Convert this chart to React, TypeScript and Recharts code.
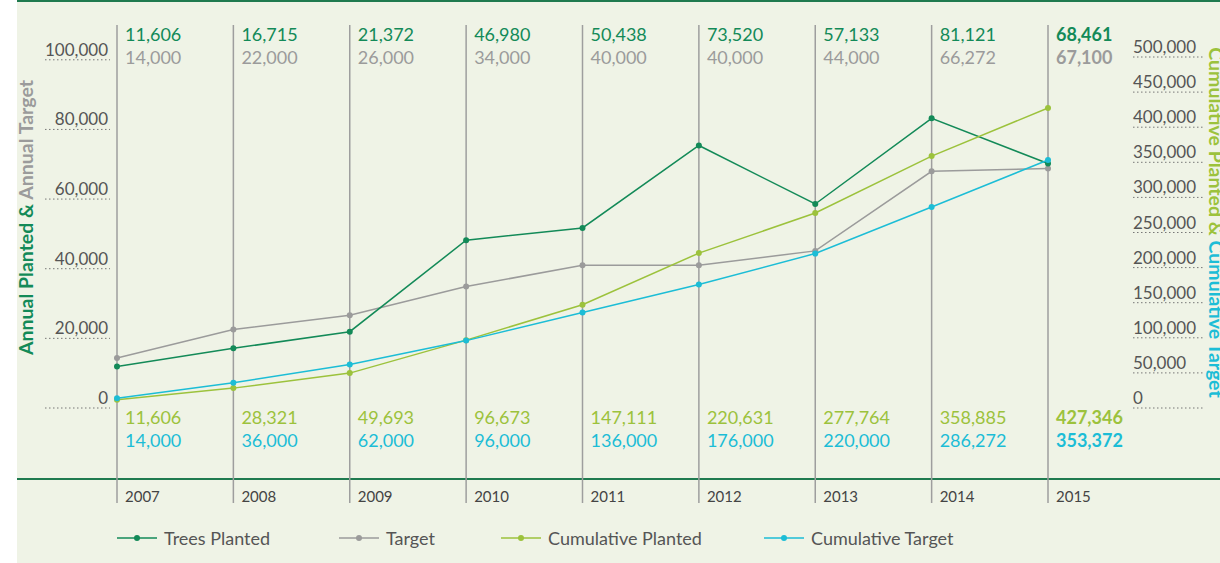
import React from 'react';
import { LineChart, Line, XAxis, YAxis, Legend, Label, CartesianGrid } from 'recharts';

const years = [2007, 2008, 2009, 2010, 2011, 2012, 2013, 2014, 2015];
const treesPlanted = [11606, 16715, 21372, 46980, 50438, 73520, 57133, 81121, 68461];
const target = [14000, 22000, 26000, 34000, 40000, 40000, 44000, 66272, 67100];
const cumulativePlanted = [11606, 28321, 49693, 96673, 147111, 220631, 277764, 358885, 427346];
const cumulativeTarget = [14000, 36000, 62000, 96000, 136000, 176000, 220000, 286272, 353372];
const leftTicks = [0, 20000, 40000, 60000, 80000, 100000];
const rightTicks = [0, 50000, 100000, 150000, 200000, 250000, 300000, 350000, 400000, 450000, 500000];

const data = years.map((year, i) => ({
  year,
  planted: treesPlanted[i],
  target: target[i],
  cumPlanted: cumulativePlanted[i],
  cumTarget: cumulativeTarget[i],
}));

const FONT = 'Lato, "Open Sans", sans-serif';
const C = {
  planted: '#138a58',
  target: '#9b9b9b',
  cumPlanted: '#9cc23c',
  cumTarget: '#1cbdd6',
  axisText: '#555555',
  grid: '#9e9e9e',
  bg: '#eff3e6',
  rule: '#1f7a4f',
};

const fmt = (v: number) => v.toLocaleString('en-US');

function XTick(props: any) {
  const { x, y, payload } = props;
  const i = years.indexOf(payload.value);
  if (i < 0) return null;
  const fw = i === years.length - 1 ? 700 : 400;
  const tx = x + 8;
  return (
    <g fontFamily={FONT}>
      <text x={tx} y={y - 367} fill={C.planted} fontSize={18} fontWeight={fw}>{fmt(treesPlanted[i])}</text>
      <text x={tx} y={y - 344} fill={C.target} fontSize={18} fontWeight={fw}>{fmt(target[i])}</text>
      <text x={tx} y={y + 16} fill={C.cumPlanted} fontSize={18} fontWeight={fw}>{fmt(cumulativePlanted[i])}</text>
      <text x={tx} y={y + 39} fill={C.cumTarget} fontSize={18} fontWeight={fw}>{fmt(cumulativeTarget[i])}</text>
      <text x={tx} y={y + 94} fill="#444" fontSize={15}>{payload.value}</text>
    </g>
  );
}

function LeftTick(props: any) {
  const { x, y, payload } = props;
  return (
    <g fontFamily={FONT}>
      <line x1={x - 72} x2={x - 7} y1={y} y2={y} stroke="#777" strokeWidth={1} strokeDasharray="1.5 2.5" />
      <text x={x - 9} y={y - 4} textAnchor="end" fontSize={17} fill={C.axisText}>{fmt(payload.value)}</text>
    </g>
  );
}

function RightTick(props: any) {
  const { x, y, payload } = props;
  return (
    <g fontFamily={FONT}>
      <line x1={x + 85} x2={x + 157} y1={y} y2={y} stroke="#777" strokeWidth={1} strokeDasharray="1.5 2.5" />
      <text x={x + 85} y={y - 4} textAnchor="start" fontSize={17} fill={C.axisText}>{fmt(payload.value)}</text>
    </g>
  );
}

const legendItems = [
  { label: 'Trees Planted', color: C.planted },
  { label: 'Target', color: C.target },
  { label: 'Cumulative Planted', color: C.cumPlanted },
  { label: 'Cumulative Target', color: C.cumTarget },
];
const legendWidths = [222, 162, 263, 240];

function LegendContent() {
  return (
    <div style={{ display: 'flex', alignItems: 'center', fontFamily: FONT, fontSize: 18, color: C.axisText, height: 24, whiteSpace: 'nowrap' }}>
      {legendItems.map((it, i) => (
        <div key={it.label} style={{ display: 'flex', alignItems: 'center', width: legendWidths[i] }}>
          <svg width={40} height={12} style={{ marginRight: 7 }}>
            <line x1={0} x2={40} y1={6} y2={6} stroke={it.color} strokeWidth={1.5} />
            <circle cx={20} cy={6} r={3} fill={it.color} />
          </svg>
          <span>{it.label}</span>
        </div>
      ))}
    </div>
  );
}

const dot = (color: string) => ({ r: 3, fill: color, stroke: color, strokeWidth: 0 });

export default function App() {
  return (
    <div style={{ position: 'absolute', left: 0, top: 0, width: 1220, height: 563, overflow: 'hidden', background: '#fff' }}>
      <div style={{ position: 'absolute', left: 17, top: 0, width: 1203, height: 563, background: C.bg, borderTop: `2px solid ${C.rule}`, boxSizing: 'border-box' }} />
      <div style={{ position: 'absolute', left: 17, top: 478, width: 1203, height: 2, background: C.rule }} />
      <div style={{ position: 'absolute', left: 0, top: 0 }}>
        <LineChart width={1220} height={563} data={data} margin={{ top: 57, right: 0, bottom: 101, left: 0 }}>
          <CartesianGrid
            horizontal={false}
            vertical={(p: any) => (
              <line key={p.key} x1={p.x1} x2={p.x2} y1={p.y1 - 32} y2={p.y2 + 95} stroke={C.grid} strokeWidth={1.5} />
            )}
            yAxisId="left"
          />
          <XAxis
            dataKey="year"
            type="number"
            domain={[2007, 2015]}
            ticks={years}
            axisLine={false}
            tickLine={false}
            tickSize={0}
            tickMargin={0}
            height={30}
            interval={0}
            tick={<XTick />}
          />
          <YAxis
            yAxisId="left"
            domain={[0, 100800]}
            ticks={leftTicks}
            width={117}
            axisLine={false}
            tickLine={false}
            tickSize={0}
            tickMargin={0}
            interval={0}
            allowDataOverflow
            tick={<LeftTick />}
          >
            <Label
              content={(p: any) => {
                const vb = p.viewBox || { x: 0, y: 57, width: 117, height: 351 };
                const cx = vb.x + 25;
                const cy = vb.y + vb.height / 2 - 15;
                return (
                  <text x={cx} y={cy} transform={`rotate(-90 ${cx} ${cy})`} textAnchor="middle" dominantBaseline="central" fontFamily={FONT} fontSize={19.5} fontWeight={700}>
                    <tspan fill={C.planted}>Annual Planted &amp; </tspan>
                    <tspan fill={C.target}>Annual Target</tspan>
                  </text>
                );
              }}
            />
          </YAxis>
          <YAxis yAxisId="leftData" hide domain={[0, 98300]} />
          <YAxis
            yAxisId="right"
            orientation="right"
            domain={[0, 500000]}
            ticks={rightTicks}
            width={172}
            axisLine={false}
            tickLine={false}
            tickSize={0}
            tickMargin={0}
            interval={0}
            tick={<RightTick />}
          >
            <Label
              content={(p: any) => {
                const vb = p.viewBox || { x: 1048, y: 57, width: 172, height: 351 };
                const cx = vb.x + 169;
                const cy = vb.y + vb.height / 2 - 10;
                return (
                  <text x={cx} y={cy} transform={`rotate(90 ${cx} ${cy})`} textAnchor="middle" dominantBaseline="central" fontFamily={FONT} fontSize={19.5} fontWeight={700}>
                    <tspan fill={C.cumPlanted}>Cumulative Planted &amp; </tspan>
                    <tspan fill={C.cumTarget}>Cumulative Target</tspan>
                  </text>
                );
              }}
            />
          </YAxis>
          <Line yAxisId="left" dataKey="target" stroke="none" strokeWidth={0} dot={false} activeDot={false} legendType="none" isAnimationActive={false} />
          <Line yAxisId="leftData" dataKey="target" stroke={C.target} strokeWidth={1.5} dot={dot(C.target)} isAnimationActive={false} />
          <Line yAxisId="leftData" dataKey="planted" stroke={C.planted} strokeWidth={1.5} dot={dot(C.planted)} isAnimationActive={false} />
          <Line yAxisId="right" dataKey="cumPlanted" stroke={C.cumPlanted} strokeWidth={1.5} dot={dot(C.cumPlanted)} isAnimationActive={false} />
          <Line yAxisId="right" dataKey="cumTarget" stroke={C.cumTarget} strokeWidth={1.5} dot={dot(C.cumTarget)} isAnimationActive={false} />
          <Legend
            verticalAlign="bottom"
            content={<LegendContent />}
            wrapperStyle={{ position: 'absolute', left: 117, top: 526, width: 'auto', height: 24 }}
          />
        </LineChart>
      </div>
    </div>
  );
}
